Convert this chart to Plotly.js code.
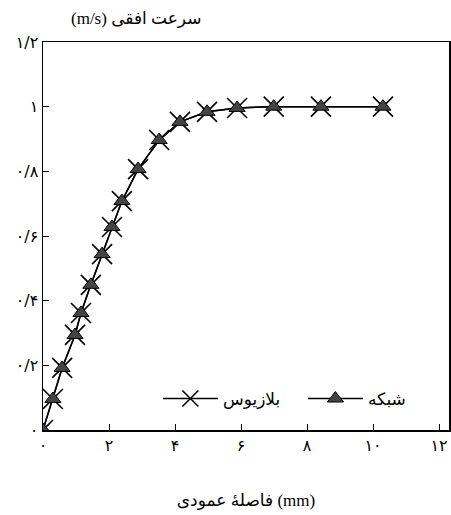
<!DOCTYPE html>
<html>
<head>
<meta charset="utf-8">
<script src="https://cdn.plot.ly/plotly-3.0.1.min.js"></script>
<style>
  body { margin: 0; background: #fff; }
  #plot { width: 451px; height: 515px; }
</style>
</head>
<body>
<div id="plot"></div>
<script>
// vertical distance (mm) and horizontal velocity (m/s)
const distance = [0, 0.30, 0.58, 0.97, 1.15, 1.45, 1.79, 2.09, 2.39, 2.88, 3.52, 4.15, 4.97, 5.88, 6.99, 8.42, 10.3]
const velocityBlasius = [0, 0.096, 0.192, 0.294, 0.362, 0.449, 0.544, 0.628, 0.708, 0.807, 0.897, 0.953, 0.984, 0.996, 1.0, 1.0, 1.0]
const velocityNetwork = [0, 0.096, 0.192, 0.294, 0.362, 0.449, 0.544, 0.628, 0.708, 0.807, 0.897, 0.953, 0.984, 0.996, 1.0, 1.0, 1.0]

const xTickVals = [0, 2, 4, 6, 8, 10, 12]
const xTickText = ['۰', '۲', '۴', '۶', '۸', '۱۰', '۱۲']
const yTickVals = [0, 0.2, 0.4, 0.6, 0.8, 1, 1.2]
const yTickText = ['۰', '۰/۲', '۰/۴', '۰/۶', '۰/۸', '۱', '۱/۲']

const font = 'Liberation Serif, DejaVu Sans, serif'

const traceBlasius = {
  x: distance,
  y: velocityBlasius,
  name: 'بلازیوس',
  mode: 'lines+markers',
  type: 'scatter',
  line: {color: '#000', width: 1.5},
  marker: {symbol: 'x-thin-open', size: 20, line: {color: '#000', width: 1.6}}
}

const traceNetwork = {
  x: distance,
  y: velocityNetwork,
  name: 'شبکه',
  mode: 'lines+markers',
  type: 'scatter',
  line: {color: '#000', width: 1.5},
  marker: {symbol: 'triangle-up', size: 14, color: '#444', line: {color: '#000', width: 1}}
}

var layout = {
  width: 451,
  height: 515,
  margin: {l: 43, r: 2, t: 42, b: 85, autoexpand: false},
  paper_bgcolor: '#fff',
  plot_bgcolor: '#fff',
  font: {family: font, color: '#000', size: 15},
  showlegend: true,
  legend: {
    orientation: 'h',
    x: 0.283, xanchor: 'left',
    y: 0.08, yanchor: 'middle',
    itemwidth: 55,
    entrywidth: 75,
    bgcolor: 'rgba(0,0,0,0)',
    font: {family: 'DejaVu Sans', size: 17}
  },
  xaxis: {
    range: [0, 12.3],
    tickvals: xTickVals,
    ticktext: xTickText,
    ticks: 'inside',
    ticklen: 6,
    tickcolor: '#000',
    showgrid: false,
    zeroline: false,
    showline: true,
    mirror: true,
    linecolor: '#000',
    linewidth: 1.5,
    tickfont: {family: 'DejaVu Sans', size: 16},
    title: {text: 'فاصلهٔ عمودی (mm)', font: {family: font, size: 17}, standoff: 40}
  },
  yaxis: {
    range: [0, 1.2],
    tickvals: yTickVals,
    ticktext: yTickText,
    ticks: 'inside',
    ticklen: 6,
    tickcolor: '#000',
    showgrid: false,
    zeroline: false,
    showline: true,
    mirror: true,
    linecolor: '#000',
    linewidth: 1.5,
    tickfont: {family: 'DejaVu Sans', size: 16}
  },
  annotations: [{
    text: '(m/s) سرعت افقی',
    xref: 'paper', yref: 'paper',
    x: 0.23, y: 1.0, yshift: 24,
    xanchor: 'center', yanchor: 'middle',
    showarrow: false,
    font: {family: font, size: 17}
  }]
}

Plotly.newPlot('plot', [traceBlasius, traceNetwork], layout, {staticPlot: true})
</script>
</body>
</html>
